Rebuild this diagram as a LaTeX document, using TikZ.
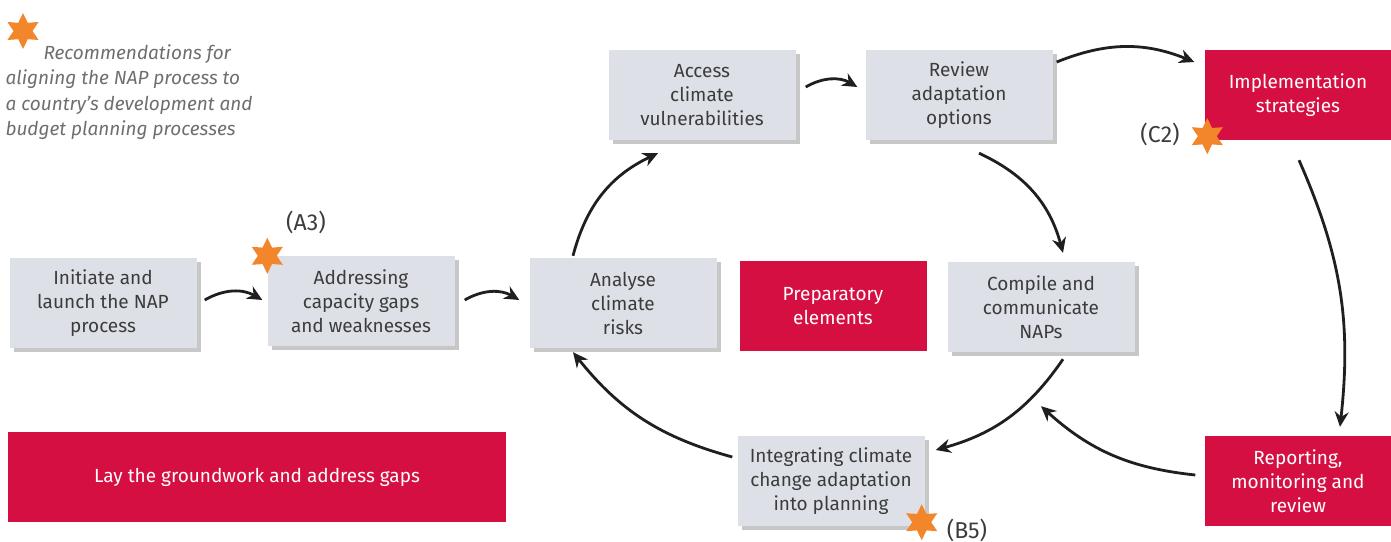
\documentclass[tikz,border=0pt]{standalone}
\usepackage{fontspec}
\setmainfont{Fira Sans}
\usetikzlibrary{arrows.meta,shapes.geometric,shadows}

\definecolor{boxgrey}{HTML}{DDE1E7}
\definecolor{napred}{HTML}{D50F41}
\definecolor{starorange}{HTML}{F3862A}
\definecolor{textgrey}{HTML}{3C3C3C}
\definecolor{notegrey}{HTML}{6E6E6E}

\begin{document}
\begin{tikzpicture}[x=1pt, y=1pt,
		every node/.style={font=\fontsize{19}{24}\selectfont, text=textgrey, align=center},
		stepbox/.style={fill=boxgrey, minimum width=187pt, minimum height=90pt,
			drop shadow={shadow xshift=4pt, shadow yshift=-4pt, fill=black!22, opacity=1}},
		redbox/.style={fill=napred, text=white, minimum width=187pt, minimum height=90pt},
		recstar/.style={star, star points=6, star point ratio=1.9, fill=starorange,
			minimum size=36pt, inner sep=0pt},
		tag/.style={font=\fontsize{23}{26}\selectfont, text=textgrey},
		flow/.style={-{Stealth[length=15pt, width=14pt]}, line width=2.8pt, draw=black!88}]
		\useasboundingbox (0, 0) rectangle (1391, -541);

		% legend
		\node [recstar] (legstar) at (23, -31) {};
		\node [anchor=north west, align=left, text=notegrey,
			font=\fontsize{19}{25.5}\selectfont\itshape] (legend) at (2, -41)
			{\hspace*{38pt}Recommendations for\\ aligning the NAP process to\\
			a country’s development and\\ budget planning processes};

		% steps
		\node [stepbox] (init) at (103, -303) {Initiate and\\ launch the NAP\\ process};
		\node [stepbox] (gaps) at (361, -301) {Addressing\\ capacity gaps\\ and weaknesses};
		\node [stepbox] (risks) at (623, -303) {Analyse\\ climate\\ risks};
		\node [stepbox] (vuln) at (702, -95) {Access\\ climate\\ vulnerabilities};
		\node [stepbox] (options) at (959, -95) {Review\\ adaptation\\ options};
		\node [stepbox] (compile) at (1041, -307) {Compile and\\ communicate\\ NAPs};
		\node [stepbox] (integ) at (831, -481) {Integrating climate\\ change adaptation\\ into planning};

		% red elements
		\node [redbox] (impl) at (1298, -95) {Implementation\\ strategies};
		\node [redbox] (report) at (1298, -481) {Reporting,\\ monitoring and\\ review};
		\node [redbox] (prep) at (833, -306) {Preparatory\\ elements};
		\node [redbox, minimum width=498pt] (ground) at (257, -477) {Lay the groundwork and address gaps};

		% recommendation stars
		\node [recstar] (starA) at (gaps.north west) {};
		\node [tag] (labA) at (306, -222) {(A3)};
		\node [recstar] (starC) at ([xshift=3pt, yshift=4pt]impl.south west) {};
		\node [tag] (labC) at (1160, -134) {(C2)};
		\node [recstar] (starB) at ([xshift=-3pt, yshift=4pt]integ.south east) {};
		\node [tag] (labB) at (967, -530) {(B5)};

		% cycle
		\draw [flow] ([xshift=8pt, yshift=3pt]init.east) to [bend left=30] ([xshift=-5pt, yshift=1pt]gaps.west);
		\draw [flow] ([xshift=10pt, yshift=1pt]gaps.east) to [bend left=30] ([xshift=-10pt, yshift=3pt]risks.west);
		\draw [flow] ([xshift=-50pt, yshift=2pt]risks.north) to [bend left=25] ([xshift=-44pt, yshift=-13pt]vuln.south);
		\draw [flow] ([xshift=10pt, yshift=8pt]vuln.east) to [bend left=30] ([xshift=-8pt, yshift=8pt]options.west);
		\draw [flow] ([xshift=4pt, yshift=33pt]options.east) to [bend left=22] ([xshift=-10pt, yshift=33pt]impl.west);
		\draw [flow] ([xshift=20pt, yshift=-13pt]options.south) to [bend left=25] ([xshift=22pt, yshift=9pt]compile.north);
		\draw [flow] ([xshift=1pt, yshift=-20pt]impl.south) to [bend left=15] ([xshift=42pt, yshift=9pt]report.north);
		\draw [flow] ([xshift=-9pt, yshift=6pt]report.west) to [bend left=18] ([xshift=0pt, yshift=-54pt]compile.south);
		\draw [flow] ([xshift=22pt, yshift=-7pt]compile.south) to [bend left=20] ([xshift=11pt, yshift=31pt]integ.east);
		\draw [flow] ([xshift=-5pt, yshift=24pt]integ.west) to [bend left=18] ([xshift=-50pt, yshift=-4pt]risks.south);
\end{tikzpicture}
\end{document}
